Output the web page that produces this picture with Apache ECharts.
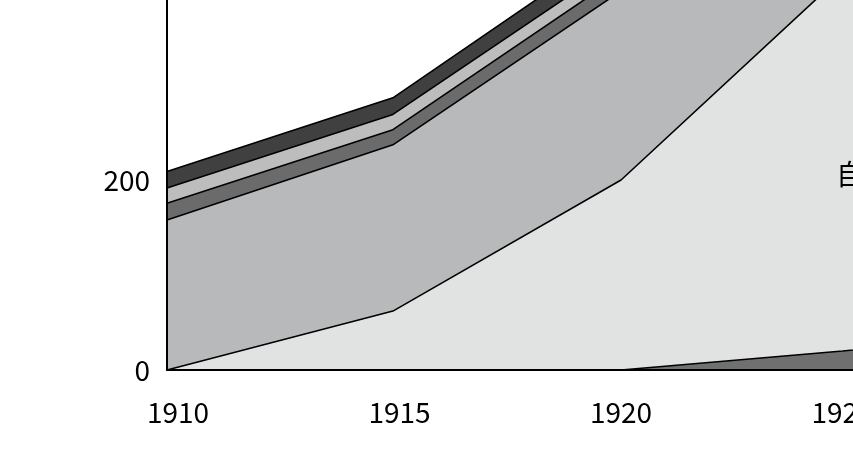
<!DOCTYPE html>
<html>
<head>
<meta charset="utf-8">
<script src="https://cdn.jsdelivr.net/npm/echarts@6/dist/echarts.min.js"></script>
<style>
  html, body { margin: 0; padding: 0; background: #fff; }
  #chart { width: 853px; height: 457px; }
</style>
</head>
<body>
<div id="chart"></div>
<script>
// Data (x positions in years, values stacked bottom to top)
const years = [1909.75, 1914.85, 1920, 1925, 1930];
const xTickLabels = [1910, 1915, 1920, 1925, 1930];
const yTickLabels = [0, 200];
const seriesA = [0, 0, 0, 20, 42];          // dark gray, appears from 1920
const seriesB = [0, 62, 200, 396, 560];     // light gray (labelled 自…)
const seriesC = [158, 175, 199, 230, 250];  // medium gray
const seriesD = [17.5, 16, 17, 18, 18];     // mid-dark gray
const seriesE = [16, 16, 15, 16, 16];       // light gray strip
const seriesF = [17.5, 17.5, 20, 22, 22];   // dark strip
const areaLabel = '自';

const colors = ['#707070', '#e1e2e2', '#b8b9bb', '#6b6b6b', '#bdbdbd', '#404040'];
const allSeries = [seriesA, seriesB, seriesC, seriesD, seriesE, seriesF];

const font = '"Noto Sans CJK KR", "Noto Sans", sans-serif';

const chart = echarts.init(document.getElementById('chart'));
chart.setOption({
  animation: false,
  backgroundColor: '#ffffff',
  grid: { left: 167, top: -580, width: 1340, height: 950, containLabel: false, outerBoundsMode: 'none' },
  xAxis: {
    type: 'value',
    min: 1909.75,
    max: 1940,
    z: 20,
    splitLine: { show: false },
    axisTick: { show: false },
    axisLine: { show: true, lineStyle: { color: '#000', width: 2 } },
    axisLabel: {
      customValues: xTickLabels,
      fontFamily: font, fontSize: 28, color: '#000', margin: 28,
      formatter: v => String(v)
    }
  },
  yAxis: {
    type: 'value',
    min: 0,
    max: 1000,
    z: 20,
    splitLine: { show: false },
    axisTick: { show: false },
    axisLine: { show: true, lineStyle: { color: '#000', width: 2 } },
    axisLabel: {
      customValues: yTickLabels,
      fontFamily: font, fontSize: 28, color: '#000', margin: 17
    }
  },
  series: allSeries.map((vals, i) => ({
    name: 's' + i,
    type: 'line',
    stack: 'total',
    symbol: 'none',
    // value first so the library stacks the value dimension, year second
    data: years.map((y, k) => [vals[k], y]),
    encode: { x: 1, y: 0 },
    lineStyle: { color: '#000', width: 1.6 },
    areaStyle: { color: colors[i], opacity: 1 }
  })),
  graphic: [{
    type: 'text',
    left: 836,
    top: 160,
    z: 100,
    style: { text: areaLabel, font: '28px ' + font, fill: '#000' }
  }]
});
</script>
</body>
</html>
